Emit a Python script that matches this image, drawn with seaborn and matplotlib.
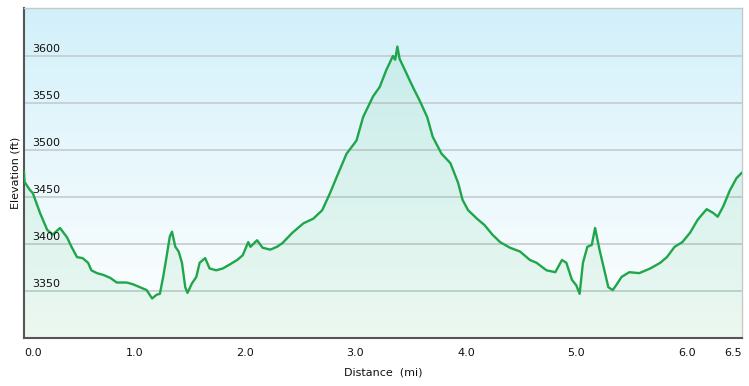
import matplotlib
matplotlib.use("Agg")
import matplotlib.pyplot as plt
import seaborn as sns
import numpy as np
import pandas as pd

# distancia (mi) y elevacion (ft)
distance = [0.0, 0.005, 0.05, 0.08, 0.145, 0.21, 0.26, 0.326, 0.39, 0.43, 0.48, 0.53,
            0.58, 0.61, 0.66, 0.72, 0.78, 0.84, 0.93, 0.99, 1.05, 1.11, 1.16, 1.2,
            1.23, 1.26, 1.29, 1.32, 1.34, 1.37, 1.40, 1.43, 1.46, 1.48, 1.52, 1.56,
            1.59, 1.64, 1.68, 1.74, 1.80, 1.86, 1.93, 1.98, 2.03, 2.05, 2.11, 2.16,
            2.23, 2.29, 2.34, 2.43, 2.53, 2.62, 2.70, 2.77, 2.83, 2.92, 3.01, 3.07,
            3.16, 3.22, 3.28, 3.34, 3.36, 3.38, 3.40, 3.42, 3.46, 3.52, 3.58, 3.65,
            3.70, 3.78, 3.86, 3.93, 3.97, 4.02, 4.10, 4.17, 4.24, 4.31, 4.40, 4.49,
            4.58, 4.64, 4.73, 4.81, 4.87, 4.91, 4.96, 5.00, 5.03, 5.06, 5.10, 5.14,
            5.17, 5.21, 5.26, 5.29, 5.33, 5.36, 5.41, 5.48, 5.57, 5.67, 5.76, 5.82,
            5.89, 5.96, 6.03, 6.10, 6.18, 6.24, 6.28, 6.33, 6.39, 6.45, 6.5]
elevation = [3477, 3466, 3458, 3454, 3433, 3415, 3410, 3417, 3407, 3397, 3386, 3385,
             3380, 3372, 3369, 3367, 3364, 3359, 3359, 3357, 3354, 3351, 3342, 3346,
             3347, 3365, 3386, 3408, 3413, 3397, 3392, 3380, 3354, 3348, 3358, 3365,
             3380, 3385, 3374, 3372, 3374, 3378, 3383, 3388, 3402, 3397, 3404, 3396,
             3394, 3397, 3401, 3412, 3422, 3427, 3436, 3454, 3471, 3496, 3510, 3535,
             3557, 3567, 3585, 3600, 3596, 3610, 3597, 3592, 3582, 3567, 3553, 3535,
             3514, 3496, 3486, 3465, 3447, 3436, 3427, 3420, 3410, 3402, 3396, 3392,
             3383, 3380, 3372, 3370, 3383, 3380, 3362, 3356, 3347, 3380, 3397, 3399,
             3417, 3394, 3369, 3354, 3351, 3356, 3365, 3370, 3369, 3374, 3380, 3386,
             3397, 3402, 3412, 3426, 3437, 3433, 3429, 3440, 3457, 3470, 3476]

x_ticks = [0.0, 1.0, 2.0, 3.0, 4.0, 5.0, 6.0, 6.5]
x_labels = ["0.0", "1.0", "2.0", "3.0", "4.0", "5.0", "6.0", "6.5"]
y_ticks = [3350, 3400, 3450, 3500, 3550, 3600]

df = pd.DataFrame({"Distancia": distance, "Elevacion": elevation})

sns.set_style("white")
plt.rcParams["font.family"] = ["DejaVu Sans"]

fig = plt.figure(figsize=(7.49, 3.86), dpi=100)
ax = fig.add_axes([24 / 749, 48 / 386, 718 / 749, 330 / 386])

# fondo degradado azul -> blanco
grad = np.linspace(0, 1, 256).reshape(-1, 1)
top = np.array([0.82, 0.94, 0.98])
bot = np.array([1.0, 1.0, 1.0])
img = top + (bot - top) * grad[:, :, None] ** 0.9
ax.imshow(img, extent=[0, 1, 0, 1], transform=ax.transAxes, aspect="auto", zorder=0)

ax.set_xlim(0, 6.5)
ax.set_ylim(3300, 3651)

for v in y_ticks:
    ax.axhline(v, color="#c4ccd0", lw=1.2, zorder=1)

ax.fill_between(df["Distancia"], df["Elevacion"], 3300, color="#2eb85c", alpha=0.09, lw=0, zorder=2)
sns.lineplot(data=df, x="Distancia", y="Elevacion", color="#1fa64b", lw=1.7, ax=ax, zorder=3)

# etiquetas del eje y dentro del grafico
ax.set_yticks(y_ticks)
ax.set_yticklabels([])
ax.tick_params(axis="y", length=0)
for v in y_ticks:
    ax.text(0.011, v + 2, str(v), transform=ax.get_yaxis_transform(), fontsize=8,
            color="#111111", ha="left", va="bottom", zorder=4)

ax.set_xticks(x_ticks)
ax.set_xticklabels(x_labels, fontsize=8, color="#111111")
labs = ax.get_xticklabels()
labs[0].set_ha("left")
labs[-1].set_ha("right")
ax.tick_params(axis="x", direction="out", length=4, width=1, color="#333333", pad=3)

ax.set_xlabel("Distance  (mi)", fontsize=8, color="#111111", labelpad=7)
ax.set_ylabel("Elevation (ft)", fontsize=8, color="#111111", labelpad=-1)

for s in ["left", "bottom"]:
    ax.spines[s].set_color("#555555")
    ax.spines[s].set_linewidth(1.5)
for s in ["top", "right"]:
    ax.spines[s].set_color("#c8c8c8")
    ax.spines[s].set_linewidth(1.0)

plt.savefig("out.png", dpi=100)
